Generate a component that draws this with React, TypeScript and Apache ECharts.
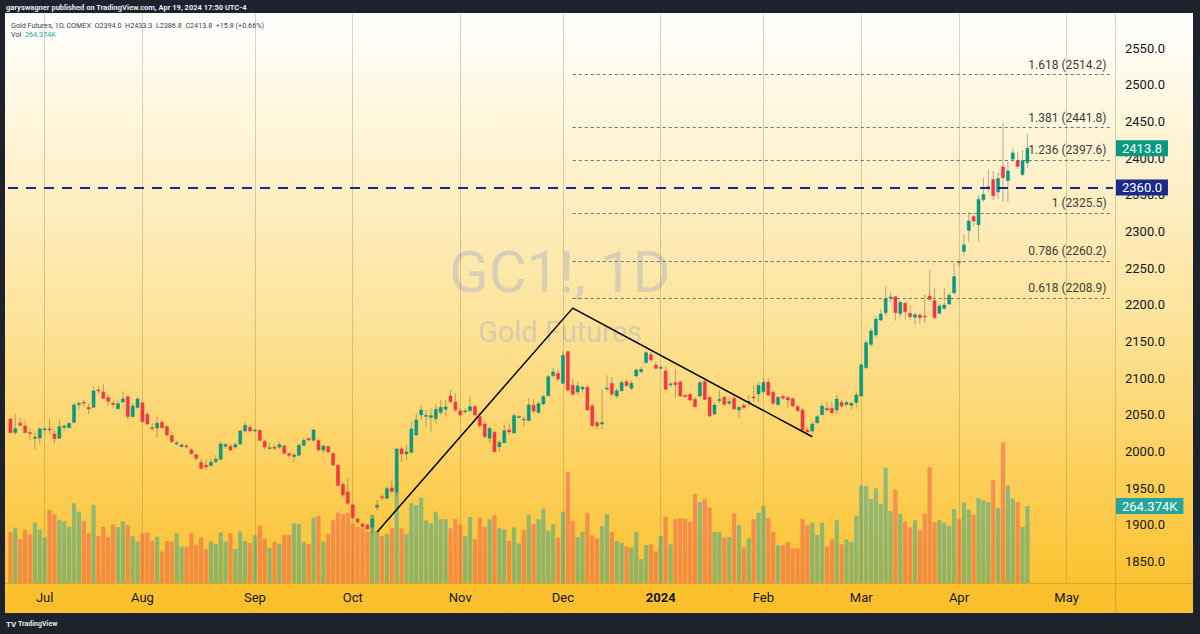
import React, { useEffect, useRef } from "react";
import * as echarts from "echarts";

// ---------- calendar (COMEX trading days) ----------
const FIRST_DAY = "2023-06-22";
const DAY_COUNT = 226; // trading days shown on the time axis, through mid-May 2024
const HOLIDAYS = [
  "2023-07-04", "2023-09-04", "2023-11-23", "2023-12-25",
  "2024-01-01", "2024-01-15", "2024-02-19", "2024-03-29",
];
const MONTH_NAMES = ["Jan", "Feb", "Mar", "Apr", "May", "Jun", "Jul", "Aug", "Sep", "Oct", "Nov", "Dec"];

// ---------- daily candles: [open, high, low, close] ----------
const jun23 = [
  [2044.6, 2046.0, 2025.0, 2026.0], [2026.0, 2051.0, 2022.8, 2031.4], [2038.7, 2045.5, 2034.1, 2036.0],
  [2035.0, 2042.3, 2025.0, 2026.0], [2026.0, 2031.4, 2016.0, 2024.6], [2018.7, 2026.0, 2003.2, 2019.6],
  [2018.7, 2033.2, 2010.5, 2031.0],
];
const jul23 = [
  [2030.5, 2033.0, 2028.7, 2031.0], [2031.0, 2044.1, 2022.8, 2029.6], [2024.1, 2029.6, 2011.4, 2017.8],
  [2018.2, 2043.2, 2017.3, 2034.1], [2033.2, 2037.8, 2029.6, 2035.0], [2032.8, 2040.0, 2031.9, 2038.7],
  [2040.0, 2066.0, 2038.7, 2063.7], [2064.1, 2068.2, 2057.8, 2066.0], [2067.3, 2070.5, 2061.4, 2066.0],
  [2060.5, 2066.0, 2051.4, 2058.2], [2060.5, 2088.7, 2059.6, 2082.8], [2084.1, 2089.6, 2078.7, 2082.8],
  [2081.4, 2092.3, 2071.4, 2072.8], [2073.7, 2078.7, 2062.3, 2068.7], [2066.0, 2069.6, 2059.1, 2064.1],
  [2058.7, 2069.6, 2056.9, 2065.5], [2067.8, 2081.9, 2066.0, 2071.9], [2075.0, 2077.3, 2044.1, 2047.8],
  [2047.8, 2066.0, 2046.9, 2062.3], [2060.0, 2074.1, 2058.7, 2071.9],
];
const aug23 = [
  [2066.4, 2068.2, 2039.6, 2040.9], [2051.0, 2054.6, 2036.4, 2037.8], [2032.8, 2038.7, 2028.7, 2031.4],
  [2032.3, 2047.8, 2018.2, 2038.7], [2040.0, 2043.2, 2030.5, 2032.8], [2034.1, 2036.4, 2020.5, 2022.8],
  [2021.9, 2027.3, 2011.4, 2013.7], [2010.5, 2015.0, 2008.7, 2011.9], [2006.9, 2011.4, 2006.0, 2009.1],
  [2007.8, 2010.5, 2004.6, 2006.4], [2002.3, 2004.6, 1996.4, 1997.3], [1995.5, 1997.8, 1988.7, 1991.0],
  [1985.1, 1989.6, 1976.0, 1977.3], [1981.4, 1988.7, 1975.0, 1979.1], [1981.0, 1990.9, 1979.6, 1985.5],
  [1986.4, 1995.5, 1984.1, 1989.6], [1989.6, 2013.7, 1988.7, 2010.5], [2007.3, 2012.0, 2004.0, 2009.6],
  [2007.3, 2010.0, 2000.0, 2002.3], [2006.4, 2012.0, 2004.0, 2009.6], [2010.5, 2030.0, 2009.0, 2028.2],
  [2028.2, 2040.0, 2026.0, 2035.9], [2033.2, 2037.0, 2026.0, 2028.2],
];
const sep23 = [
  [2029.1, 2031.0, 2027.0, 2029.5], [2029.1, 2030.0, 2014.0, 2015.5], [2014.1, 2016.0, 2003.0, 2006.4],
  [2005.0, 2012.0, 2003.0, 2005.5], [2006.0, 2010.0, 2002.0, 2005.0], [2006.0, 2013.0, 2004.0, 2009.6],
  [2007.8, 2009.0, 1996.0, 1997.8], [1997.3, 1999.0, 1992.0, 1995.1], [1993.2, 1998.0, 1986.4, 1995.5],
  [1995.1, 2011.0, 1994.0, 2008.7], [2008.7, 2018.0, 2007.0, 2015.5], [2017.8, 2019.0, 2014.0, 2016.0],
  [2015.5, 2031.0, 2014.0, 2029.6], [2015.0, 2017.0, 2000.0, 2002.3], [2002.3, 2009.0, 1998.0, 2007.8],
  [2006.9, 2009.0, 1998.0, 1999.6], [1997.3, 1999.0, 1980.0, 1981.9], [1981.4, 1983.0, 1952.0, 1954.1],
  [1955.5, 1958.0, 1938.0, 1941.0], [1945.0, 1963.0, 1927.0, 1929.6],
];
const oct23 = [
  [1927.3, 1929.0, 1908.0, 1910.0], [1908.2, 1910.0, 1901.0, 1904.1], [1901.4, 1903.0, 1896.0, 1897.8],
  [1900.0, 1902.0, 1893.0, 1894.6], [1896.9, 1914.0, 1887.0, 1908.2], [1924.1, 1934.0, 1920.0, 1927.3],
  [1938.6, 1942.0, 1934.0, 1938.2], [1936.4, 1953.0, 1935.0, 1949.6], [1950.5, 1961.4, 1943.2, 1945.9],
  [1944.6, 2004.5, 1940.0, 2003.7], [2003.7, 2006.9, 1986.4, 1996.9], [1996.9, 2009.1, 1988.7, 1999.6],
  [1999.1, 2040.9, 1997.8, 2030.9], [2022.8, 2052.3, 2020.5, 2043.2], [2050.0, 2063.7, 2043.2, 2056.8],
  [2048.6, 2056.8, 2034.1, 2049.5], [2046.8, 2059.1, 2027.3, 2049.1], [2045.0, 2065.9, 2038.7, 2057.7],
  [2053.7, 2070.5, 2050.0, 2060.5], [2057.7, 2070.5, 2047.7, 2060.9], [2075.9, 2084.1, 2065.9, 2068.2],
  [2067.7, 2079.5, 2054.6, 2056.8],
];
const nov23 = [
  [2055.5, 2059.1, 2047.7, 2050.0], [2054.6, 2059.1, 2052.3, 2055.5], [2055.9, 2075.0, 2054.6, 2061.4],
  [2061.4, 2063.7, 2047.7, 2050.0], [2047.7, 2054.6, 2031.8, 2035.5], [2037.7, 2040.9, 2018.2, 2020.5],
  [2018.2, 2034.1, 2011.4, 2031.8], [2026.4, 2029.6, 1998.7, 2000.0], [2006.8, 2015.9, 2000.0, 2012.7],
  [2012.3, 2036.4, 2011.4, 2028.6], [2029.6, 2038.7, 2022.8, 2026.8], [2025.5, 2052.3, 2024.1, 2049.1],
  [2047.3, 2050.0, 2045.5, 2047.7], [2044.5, 2047.7, 2034.1, 2043.6], [2042.3, 2072.7, 2040.9, 2063.7],
  [2063.2, 2071.4, 2052.3, 2055.5], [2053.2, 2068.2, 2052.3, 2065.5], [2065.0, 2077.3, 2063.7, 2075.0],
  [2076.4, 2104.6, 2075.0, 2102.3], [2103.6, 2113.6, 2100.0, 2108.7], [2106.8, 2112.3, 2095.5, 2099.1],
];
const dec23 = [
  [2093.2, 2136.4, 2092.3, 2131.4], [2136.4, 2137.7, 2081.8, 2084.1], [2090.5, 2099.6, 2076.0, 2078.2],
  [2081.4, 2095.5, 2077.3, 2089.6], [2085.4, 2090.0, 2080.0, 2088.0], [2087.7, 2089.6, 2055.9, 2056.8],
  [2062.3, 2065.9, 2034.1, 2035.5], [2039.5, 2042.0, 2030.0, 2035.3], [2037.7, 2085.0, 2030.4, 2039.5],
  [2085.4, 2104.5, 2081.8, 2086.8], [2093.2, 2102.2, 2075.9, 2078.2], [2075.9, 2086.3, 2072.7, 2083.1],
  [2083.1, 2097.7, 2081.8, 2094.1], [2095.4, 2098.6, 2088.6, 2090.0], [2086.4, 2096.8, 2084.1, 2093.2],
  [2103.2, 2113.6, 2102.3, 2111.3], [2109.0, 2115.9, 2106.8, 2112.2], [2121.3, 2137.7, 2120.4, 2135.0],
  [2132.2, 2136.3, 2122.7, 2125.0], [2118.1, 2122.7, 2112.2, 2113.6],
];
const jan24 = [
  [2114.5, 2116.8, 2112.2, 2115.0], [2110.0, 2115.9, 2084.1, 2085.0], [2092.2, 2095.4, 2088.6, 2092.4],
  [2094.0, 2112.2, 2074.1, 2091.3], [2095.0, 2096.8, 2075.0, 2075.9], [2076.8, 2078.6, 2074.1, 2075.0],
  [2077.7, 2080.4, 2068.1, 2070.4], [2071.3, 2074.0, 2060.4, 2061.3], [2075.9, 2096.8, 2074.1, 2094.1],
  [2095.4, 2098.6, 2070.4, 2071.3], [2074.0, 2076.0, 2046.8, 2048.6], [2051.3, 2065.9, 2050.0, 2063.6],
  [2069.5, 2084.1, 2065.9, 2071.3], [2074.0, 2075.9, 2062.2, 2064.5], [2065.9, 2075.0, 2063.6, 2068.1],
  [2072.7, 2077.2, 2056.8, 2058.2], [2056.8, 2062.2, 2046.8, 2060.4], [2063.1, 2065.9, 2057.7, 2060.0],
  [2068.1, 2077.2, 2061.3, 2068.5], [2074.5, 2090.9, 2068.1, 2074.0], [2078.6, 2095.4, 2068.1, 2090.4],
];
const feb24 = [
  [2081.8, 2100.0, 2078.6, 2094.5], [2095.0, 2100.0, 2075.9, 2077.2], [2080.9, 2083.1, 2063.6, 2065.9],
  [2064.1, 2075.9, 2062.2, 2074.1], [2075.4, 2077.2, 2070.4, 2073.1], [2073.6, 2075.9, 2059.0, 2070.4],
  [2072.2, 2074.0, 2060.4, 2062.3], [2061.4, 2063.6, 2054.5, 2055.9], [2056.8, 2059.0, 2027.2, 2029.5],
  [2029.5, 2031.8, 2022.7, 2027.2], [2028.1, 2040.9, 2025.0, 2037.7], [2039.5, 2050.0, 2037.7, 2047.7],
  [2050.4, 2065.9, 2049.5, 2062.3], [2059.0, 2067.7, 2055.9, 2056.8], [2059.0, 2068.1, 2051.3, 2053.1],
  [2056.8, 2077.2, 2049.9, 2071.8], [2067.2, 2070.4, 2059.0, 2062.2], [2064.5, 2069.5, 2061.3, 2067.2],
  [2063.1, 2068.1, 2056.8, 2065.9], [2067.2, 2081.8, 2060.4, 2077.2],
];
const mar24 = [
  [2075.9, 2120.4, 2075.0, 2118.1], [2114.5, 2152.2, 2112.2, 2148.6], [2146.3, 2168.1, 2143.1, 2164.5],
  [2159.0, 2184.9, 2155.9, 2180.8], [2179.5, 2194.0, 2177.2, 2187.7], [2189.5, 2225.0, 2184.0, 2209.0],
  [2210.4, 2218.1, 2204.5, 2210.8], [2211.3, 2212.2, 2178.6, 2189.5], [2188.3, 2205.8, 2183.1, 2203.6],
  [2202.2, 2204.5, 2180.4, 2190.9], [2188.6, 2199.9, 2179.5, 2184.0], [2183.1, 2189.5, 2172.7, 2186.8],
  [2186.3, 2188.6, 2174.0, 2182.7], [2185.0, 2213.6, 2175.8, 2184.5], [2212.2, 2247.7, 2205.8, 2207.7],
  [2205.8, 2222.7, 2181.3, 2182.7], [2188.6, 2201.3, 2187.7, 2198.6], [2195.4, 2222.7, 2193.1, 2199.9],
  [2201.3, 2216.7, 2199.9, 2213.1], [2216.7, 2256.8, 2213.6, 2238.6],
];
const apr24 = [
  [2259.5, 2260.5, 2252.2, 2257.7], [2273.0, 2296.0, 2267.3, 2282.0], [2301.7, 2326.2, 2286.2, 2314.5],
  [2320.6, 2326.2, 2307.4, 2314.5], [2309.3, 2349.8, 2286.2, 2344.1], [2343.7, 2373.4, 2340.4, 2350.7],
  [2358.3, 2385.2, 2354.5, 2361.1], [2371.0, 2382.8, 2342.7, 2348.9], [2354.2, 2380.4, 2345.1, 2372.4],
  [2388.4, 2448.7, 2340.4, 2373.4], [2369.6, 2396.9, 2340.4, 2382.8], [2398.8, 2413.4, 2394.6, 2407.3],
  [2396.9, 2408.7, 2385.2, 2388.9], [2378.0, 2411.1, 2375.7, 2396.9], [2394.0, 2433.3, 2386.8, 2413.8],
];

// ---------- daily volume (thousands of contracts) ----------
const volJun = [175, 190, 150, 184, 167, 208, 184];
const volJul = [156, 251, 236, 216, 212, 193, 274, 245, 213, 171, 268, 162, 193, 159, 201, 192, 212, 199, 162, 142];
const volAug = [171, 173, 144, 159, 108, 144, 142, 171, 125, 125, 171, 132, 156, 117, 142, 134, 173, 142, 171, 117, 177, 144, 137];
const volSep = [164, 197, 152, 120, 141, 134, 165, 165, 205, 203, 141, 134, 224, 230, 142, 168, 216, 241, 236, 241];
const volOct = [205, 193, 188, 176, 233, 178, 161, 168, 188, 310, 188, 168, 274, 268, 293, 216, 205, 245, 219, 219, 188, 219];
const volNov = [201, 161, 227, 150, 224, 193, 219, 233, 188, 184, 145, 191, 136, 182, 233, 203, 219, 255, 180, 201, 156];
const volDec = [245, 382, 214, 157, 176, 241, 164, 153, 196, 236, 175, 144, 138, 125, 122, 175, 82, 130, 133, 108];
const volJan = [161, 227, 133, 220, 222, 221, 209, 306, 278, 288, 259, 175, 175, 156, 159, 239, 199, 122, 153, 219, 241];
const volFeb = [264, 223, 175, 129, 129, 141, 119, 119, 220, 198, 207, 165, 207, 125, 150, 216, 133, 150, 141, 231];
const volMar = [335, 333, 288, 325, 271, 396, 247, 320, 237, 211, 191, 215, 182, 238, 398, 209, 216, 207, 196, 254];
const volApr = [219, 276, 252, 234, 291, 284, 278, 353, 258, 483, 335, 290, 278, 193, 264.374];

// ---------- drawings & labels ----------
const trendDates = ["2023-10-09", "2023-12-05", "2024-02-15"];
const trendPrices = [1890.5, 2195.7, 2020.3];
const fibRatios = ["0.618", "0.786", "1", "1.236", "1.381", "1.618"];
const fibPrices = [2208.9, 2260.2, 2325.5, 2397.6, 2441.8, 2514.2];
const hLinePrice = 2360.0;
const lastPrice = 2413.8;
const lastVolume = 264.374;
const priceTicks = [1850, 1900, 1950, 2000, 2050, 2100, 2150, 2200, 2250, 2300, 2350, 2400, 2450, 2500, 2550];

const FONT = "Roboto, 'Noto Sans', 'DejaVu Sans', sans-serif";
const TEAL = "#089981";
const RED = "#f23645";
const NAVY = "#1a2a8c";
const HIDDEN = "rgba(0,0,0,0)";

function tradingDays(): string[] {
  const out: string[] = [];
  const [y, m, d] = FIRST_DAY.split("-").map(Number);
  const cur = new Date(Date.UTC(y, m - 1, d));
  while (out.length < DAY_COUNT) {
    const wd = cur.getUTCDay();
    const s = cur.toISOString().slice(0, 10);
    if (wd !== 0 && wd !== 6 && !HOLIDAYS.includes(s)) out.push(s);
    cur.setUTCDate(cur.getUTCDate() + 1);
  }
  return out;
}

export default function App() {
  const ref = useRef<HTMLDivElement>(null);

  useEffect(() => {
    if (!ref.current) return;
    const chart = echarts.init(ref.current, null, { renderer: "svg" });

    const days = tradingDays();
    const ohlc = [...jun23, ...jul23, ...aug23, ...sep23, ...oct23, ...nov23, ...dec23, ...jan24, ...feb24, ...mar24, ...apr24];
    const vols = [...volJun, ...volJul, ...volAug, ...volSep, ...volOct, ...volNov, ...volDec, ...volJan, ...volFeb, ...volMar, ...volApr];

    const monthStarts: number[] = [];
    for (let i = 1; i < days.length; i++) {
      if (days[i].slice(0, 7) !== days[i - 1].slice(0, 7)) monthStarts.push(i);
    }
    const monthSet = new Set(monthStarts);

    const candleData = ohlc.map((r, i) => [i, r[0], r[3], r[2], r[1]]); // idx, open, close, low, high
    const volData = vols.map((v, i) => ({
      value: v,
      itemStyle: {
        color: ohlc[i][3] >= ohlc[i][0] ? "rgba(38,166,154,0.5)" : "rgba(239,83,80,0.5)",
      },
    }));

    const lastDay = days[days.length - 1];
    const fibLines = fibPrices.map((p, k) => [
      {
        coord: [trendDates[1], p],
        lineStyle: { color: "#6e6e6e", width: 1, type: [3, 3] },
        label: {
          show: true,
          position: "insideEndTop",
          formatter: `${fibRatios[k]} (${p.toFixed(1)})`,
          color: "#3d3d3d",
          fontSize: 12,
          fontFamily: FONT,
          distance: [4, 4],
        },
      },
      { coord: [lastDay, p] },
    ]);

    const boxLabel = (text: string, bg: string) => ({
      show: true,
      position: "end",
      formatter: text,
      color: "#ffffff",
      backgroundColor: bg,
      padding: [2, 6, 1, 6],
      fontSize: 13,
      fontFamily: FONT,
      distance: 3,
    });

    const option: any = {
      animation: false,
      backgroundColor: "#1e222d",
      textStyle: { fontFamily: FONT },
      grid: [
        { left: 8, top: 13, width: 1105, height: 570 },
        { left: 8, top: 383, width: 1105, height: 200 },
      ],
      xAxis: [
        {
          type: "category",
          gridIndex: 0,
          data: days,
          boundaryGap: true,
          show: false,
        },
        {
          type: "category",
          gridIndex: 1,
          data: days,
          boundaryGap: true,
          axisLine: { show: false },
          axisTick: { show: false },
          splitLine: { show: false },
          axisLabel: {
            interval: (index: number) => monthSet.has(index),
            formatter: (value: string) => {
              const m = Number(value.slice(5, 7));
              return m === 1 ? `{y|${value.slice(0, 4)}}` : MONTH_NAMES[m - 1];
            },
            color: "#131722",
            fontSize: 13,
            margin: 8,
            fontFamily: FONT,
            rich: { y: { fontWeight: "bold", fontSize: 13, color: "#131722", fontFamily: FONT } },
          },
        },
      ],
      yAxis: [
        {
          type: "value",
          gridIndex: 0,
          position: "right",
          min: 1820.9,
          max: 2598.1,
          splitLine: { show: false },
          axisLine: { show: false },
          axisTick: { show: false },
          axisLabel: {
            customValues: priceTicks,
            formatter: (v: number) => v.toFixed(1),
            color: "#131722",
            fontSize: 13,
            margin: 12,
            fontFamily: FONT,
          },
        },
        {
          type: "value",
          gridIndex: 1,
          min: 0,
          max: 686.7,
          show: false,
        },
      ],
      graphic: [
        {
          type: "rect",
          z: -10,
          shape: { x: 5, y: 13, width: 1188, height: 600 },
          style: {
            fill: new echarts.graphic.LinearGradient(0, 0, 0, 1, [
              { offset: 0, color: "#ffffff" },
              { offset: 0.5, color: "#fde49c" },
              { offset: 0.95, color: "#fbc22f" },
              { offset: 1, color: "#fbbf2b" },
            ]),
          },
        },
        {
          type: "line",
          z: -9,
          shape: { x1: 1115.5, y1: 13, x2: 1115.5, y2: 613 },
          style: { stroke: "rgba(110,90,50,0.25)", lineWidth: 1 },
        },
        {
          type: "line",
          z: -9,
          shape: { x1: 5, y1: 583.5, x2: 1193, y2: 583.5 },
          style: { stroke: "rgba(110,90,50,0.25)", lineWidth: 1 },
        },
        {
          type: "text",
          z: -5,
          x: 560,
          y: 272,
          style: {
            text: "GC1!, 1D",
            fill: "rgba(185,185,192,0.55)",
            font: `58px ${FONT}`,
            align: "center",
            verticalAlign: "middle",
          },
        },
        {
          type: "text",
          z: -5,
          x: 560,
          y: 332,
          style: {
            text: "Gold Futures",
            fill: "rgba(185,185,192,0.55)",
            font: `29px ${FONT}`,
            align: "center",
            verticalAlign: "middle",
          },
        },
        {
          type: "text",
          x: 6,
          y: 7,
          style: {
            text: "garyswagner published on TradingView.com, Apr 19, 2024 17:50 UTC-4",
            fill: "#e8eaf0",
            font: `bold 7.5px ${FONT}`,
            verticalAlign: "middle",
          },
        },
        {
          type: "text",
          x: 11,
          y: 25,
          style: {
            text: "Gold Futures, 1D, COMEX  O2394.0  H2433.3  L2386.8  C2413.8  +15.8 (+0.66%)",
            fill: "#3b3f4a",
            font: `7.2px ${FONT}`,
            verticalAlign: "middle",
          },
        },
        {
          type: "text",
          x: 11,
          y: 34,
          style: {
            text: "Vol",
            fill: "#3b3f4a",
            font: `7.2px ${FONT}`,
            verticalAlign: "middle",
          },
        },
        {
          type: "text",
          x: 25,
          y: 34,
          style: {
            text: "264.374K",
            fill: "#22ab94",
            font: `7.2px ${FONT}`,
            verticalAlign: "middle",
          },
        },
        {
          type: "text",
          x: 6,
          y: 624,
          style: {
            text: "TV",
            fill: "#e8eaf0",
            font: `bold 8px ${FONT}`,
            verticalAlign: "middle",
          },
        },
        {
          type: "text",
          x: 18,
          y: 624,
          style: {
            text: "TradingView",
            fill: "#e8eaf0",
            font: `bold 7px ${FONT}`,
            verticalAlign: "middle",
          },
        },
      ],
      series: [
        {
          name: "Volume",
          type: "bar",
          xAxisIndex: 1,
          yAxisIndex: 1,
          data: volData,
          barCategoryGap: "14%",
          silent: true,
          markLine: {
            silent: true,
            symbol: ["none", "none"],
            data: [
              {
                yAxis: lastVolume,
                lineStyle: { color: HIDDEN, width: 0 },
                label: boxLabel(`${lastVolume.toFixed(3)}K`, "#26a69a"),
              },
            ],
          },
        },
        {
          name: "MonthLines",
          type: "line",
          xAxisIndex: 0,
          yAxisIndex: 0,
          data: [],
          silent: true,
          z: 1,
          markLine: {
            silent: true,
            z: 1,
            symbol: ["none", "none"],
            label: { show: false },
            lineStyle: { color: "rgba(120,100,60,0.28)", width: 1, type: "solid" },
            data: monthStarts.map((i) => ({ xAxis: days[i] })),
          },
        },
        {
          name: "GC1!",
          type: "custom",
          xAxisIndex: 0,
          yAxisIndex: 0,
          data: candleData,
          encode: { x: 0, y: [1, 2, 3, 4] },
          z: 3,
          renderItem: (params: any, api: any) => {
            const x = api.value(0);
            const o = api.value(1);
            const c = api.value(2);
            const l = api.value(3);
            const h = api.value(4);
            const up = c >= o;
            const top = api.coord([x, Math.max(o, c)]);
            const bot = api.coord([x, Math.min(o, c)]);
            const hi = api.coord([x, h]);
            const lo = api.coord([x, l]);
            const w = api.size([1, 0])[0] * 0.62;
            const color = up ? TEAL : RED;
            return {
              type: "group",
              children: [
                {
                  type: "line",
                  shape: { x1: top[0], y1: hi[1], x2: top[0], y2: lo[1] },
                  style: { stroke: "rgba(90,85,75,0.45)", lineWidth: 1 },
                },
                {
                  type: "rect",
                  shape: { x: top[0] - w / 2, y: top[1], width: w, height: Math.max(1, bot[1] - top[1]) },
                  style: { fill: color, stroke: color, lineWidth: 0.5 },
                },
              ],
            };
          },
        },
        {
          name: "Drawings",
          type: "line",
          xAxisIndex: 0,
          yAxisIndex: 0,
          data: trendDates.map((d, k) => [d, trendPrices[k]]),
          symbol: "none",
          silent: true,
          z: 5,
          lineStyle: { color: "#000000", width: 1.5 },
          markLine: {
            silent: true,
            symbol: ["none", "none"],
            data: [
              ...fibLines,
              {
                yAxis: hLinePrice,
                lineStyle: { color: NAVY, width: 2, type: [10, 8] },
                label: boxLabel(hLinePrice.toFixed(1), NAVY),
              },
              {
                yAxis: lastPrice,
                lineStyle: { color: HIDDEN, width: 0 },
                label: boxLabel(lastPrice.toFixed(1), TEAL),
              },
            ],
          },
        },
      ],
    };

    chart.setOption(option);
    return () => chart.dispose();
  }, []);

  return (
    <div
      ref={ref}
      style={{ position: "fixed", left: 0, top: 0, width: 1200, height: 634 }}
    />
  );
}
